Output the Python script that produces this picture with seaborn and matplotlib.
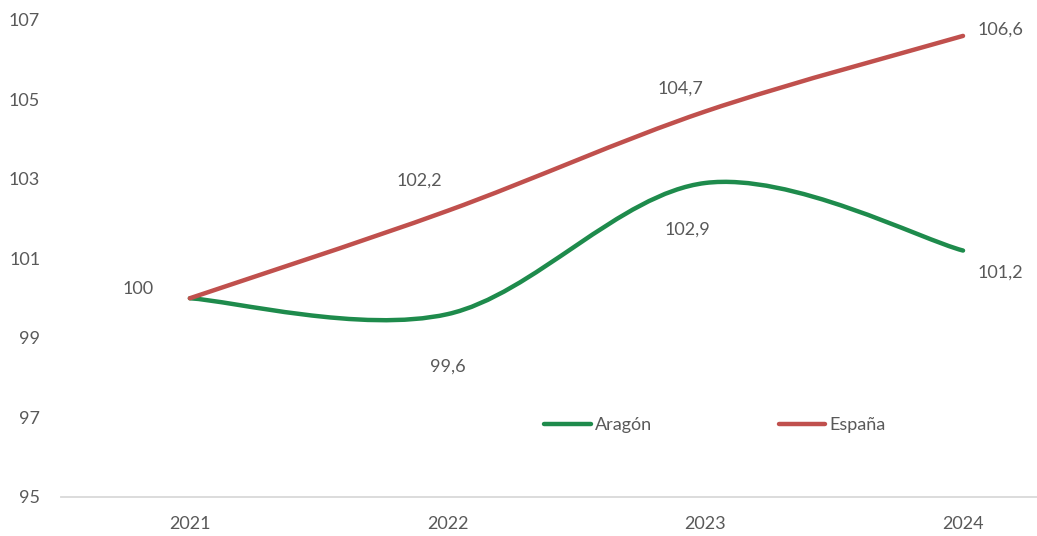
import matplotlib
matplotlib.use("Agg")
import matplotlib.pyplot as plt
import seaborn as sns
import numpy as np
import pandas as pd
from matplotlib.path import Path
from matplotlib.patches import PathPatch
from matplotlib.lines import Line2D

# datos
anios = ["2021", "2022", "2023", "2024"]
aragon = [100, 99.6, 102.9, 101.2]
espana = [100, 102.2, 104.7, 106.6]
series = ["Aragón", "España"]

colores = {"Aragón": "#1E8B4C", "España": "#C0504D"}
gris = "#595959"

# desplazamiento de etiquetas (pixeles) respecto a cada punto
offsets = {
    "Aragón": [None, (0, -52), (-18, -47), (37, -22)],
    "España": [(-52, 9), (-28, 30), (-25, 23), (37, 6)],
}

df = pd.DataFrame({"anio": anios * 2,
                   "pos": list(range(len(anios))) * 2,
                   "valor": aragon + espana,
                   "serie": ["Aragón"] * 4 + ["España"] * 4})

sns.set_theme(style="white")
plt.rcParams["font.family"] = ["Lato", "DejaVu Sans"]


def curva_suave(x, y):
    # spline tipo Excel (Catmull-Rom -> Bezier)
    pts = np.column_stack([x, y]).astype(float)
    ext = np.vstack([pts[0], pts, pts[-1]])
    verts = [pts[0]]
    codes = [Path.MOVETO]
    for i in range(len(pts) - 1):
        p0, p1, p2, p3 = ext[i], ext[i + 1], ext[i + 2], ext[i + 3]
        verts += [p1 + (p2 - p0) / 6, p2 - (p3 - p1) / 6, p2]
        codes += [Path.CURVE4] * 3
    return Path(verts, codes)


fig = plt.figure(figsize=(10.37, 5.36), dpi=100)
ax = fig.add_axes([61 / 1037, 39 / 536, 976 / 1037, 477 / 536])

# eje base con seaborn (sin trazo visible) para escalas
sns.lineplot(data=df, x="pos", y="valor", hue="serie", palette=colores,
             linewidth=0, legend=False, ax=ax)

for s in series:
    sub = df[df.serie == s]
    patch = PathPatch(curva_suave(sub.pos.values, sub.valor.values),
                      facecolor="none", edgecolor=colores[s], lw=3.2,
                      capstyle="round", joinstyle="round", zorder=3)
    ax.add_patch(patch)
    for p, v, off in zip(sub.pos, sub.valor, offsets[s]):
        if off is None:
            continue
        txt = f"{v:g}".replace(".", ",")
        ax.annotate(txt, (p, v), xytext=off, textcoords="offset pixels",
                    ha="center", va="center", fontsize=13, color=gris)

ax.set_xlim(-0.5, 3.287)
ax.set_ylim(95, 107)
ax.set_yticks(range(95, 108, 2))
ax.set_xticks(range(len(anios)))
ax.set_xticklabels(anios)
ax.tick_params(axis="both", length=0, labelsize=13, colors=gris)
ax.tick_params(axis="y", pad=15)
ax.tick_params(axis="x", pad=14)
ax.set_xlabel("")
ax.set_ylabel("")

sns.despine(ax=ax, left=True, right=True, top=True)
ax.spines["bottom"].set_color("#D9D9D9")
ax.spines["bottom"].set_linewidth(1.3)

handles = [Line2D([], [], color=colores[s], lw=3.2, solid_capstyle="round") for s in series]
leg = ax.legend(handles, series, loc="center", bbox_to_anchor=(0.67, 0.151),
                ncol=2, frameon=False, fontsize=13, handlelength=2.6,
                handletextpad=0.2, columnspacing=7)
for t in leg.get_texts():
    t.set_color(gris)

fig.savefig("out.png", dpi=100)
